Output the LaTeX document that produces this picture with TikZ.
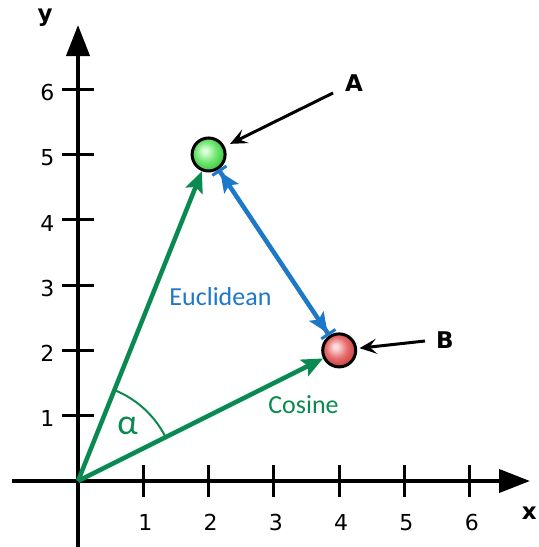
\documentclass[tikz,border=0pt]{standalone}
\usepackage{fontspec}
\setmainfont{Carlito}
\newfontfamily\dejavu{DejaVu Sans}
\usetikzlibrary{arrows.meta}
\definecolor{vgreen}{RGB}{10,138,80}
\definecolor{vblue}{RGB}{30,120,200}
\definecolor{ghl}{RGB}{220,255,220}
\definecolor{gmid}{RGB}{110,230,110}
\definecolor{gedge}{RGB}{50,185,50}
\definecolor{rhl}{RGB}{255,220,220}
\definecolor{rmid}{RGB}{230,110,110}
\definecolor{redge}{RGB}{195,50,50}
\pgfdeclareradialshading{gball}{\pgfpoint{-6bp}{6bp}}{color(0bp)=(ghl); color(3bp)=(ghl); color(16bp)=(gmid); color(31bp)=(gedge); color(50bp)=(gedge)}
\pgfdeclareradialshading{rball}{\pgfpoint{-6bp}{6bp}}{color(0bp)=(rhl); color(3bp)=(rhl); color(16bp)=(rmid); color(31bp)=(redge); color(50bp)=(redge)}
\begin{document}
\begin{tikzpicture}[x=65.3pt,y=65.3pt,
  axis/.style={line width=4pt, -{Triangle[length=31pt,width=23pt]}},
  tickmark/.style={line width=3pt},
  num/.style={font=\dejavu\fontsize{22}{26}\selectfont},
  lbl/.style={font=\dejavu\bfseries\fontsize{23}{27}\selectfont},
  ball/.style={circle, draw=black, line width=3pt, minimum size=33pt, inner sep=0pt},
  vec/.style={vgreen, line width=4.5pt, -{Stealth[length=21pt,width=18pt,inset=4pt]}},
  dist/.style={vblue, line width=4.5pt,
    {Bar[width=17pt,line width=3pt]Stealth[length=20pt,width=17pt,inset=4pt]}-{Stealth[length=20pt,width=17pt,inset=4pt]Bar[width=17pt,line width=3pt]}},
  pointer/.style={black, line width=3pt, -{Stealth[length=17pt,width=15pt,inset=7pt]}},
  txt/.style={font=\fontsize{26}{30}\selectfont}
]
\useasboundingbox (-1.1945,-1.0107) rectangle (7.0444,7.3660);
% axes
\coordinate (O) at (0,0);
\coordinate (xs) at (-1.0107,0);
\coordinate (xe) at (6.922,0);
\coordinate (ys) at (0,-1.1);
\coordinate (ye) at (0,6.983);
\draw[axis] (xs) -- (xe);
\draw[axis] (ys) -- (ye);
\foreach \i in {1,...,6}{
  \draw[tickmark] (\i,-0.245) -- (\i,0.245);
  \draw[tickmark] (-0.245,\i) -- (0.245,\i);
  \node[num] (xl\i) at (\i+0.03,-0.63) {\i};
  \node[num] (yl\i) at (-0.47,\i-0.05) {\i};
}
\node[lbl] (ylab) at (-0.505,7.09) {y};
\node[lbl] (xlab) at (6.91,-0.49) {x};
% points
\node[ball, shading=gball] (A) at (2,5) {};
\node[ball, shading=rball] (B) at (4,2) {};
% vectors
\draw[vec] (O) -- (A);
\draw[vec] (O) -- (B);
\draw[dist] (A) -- (B);
% angle
\draw[vgreen, line width=2pt] (26.57:1.5) arc[start angle=26.57, end angle=68.2, radius=1.5];
\node[text=vgreen, font=\fontsize{36}{40}\selectfont] (alpha) at (0.758,0.84) {α};
\node[txt, text=vblue] (eu) at (2.182,2.825) {Euclidean};
\node[txt, text=vgreen] (co) at (3.453,1.164) {Cosine};
% labels with pointers
\node[lbl] (la) at (4.227,6.095) {A};
\node[lbl] (lb) at (5.62,2.159) {B};
\coordinate (pa) at (3.905,5.942);
\coordinate (pb) at (5.314,2.144);
\draw[pointer, shorten >=6pt] (pa) -- (A);
\draw[pointer, shorten >=2.5pt] (pb) -- (B);
\end{tikzpicture}
\end{document}
